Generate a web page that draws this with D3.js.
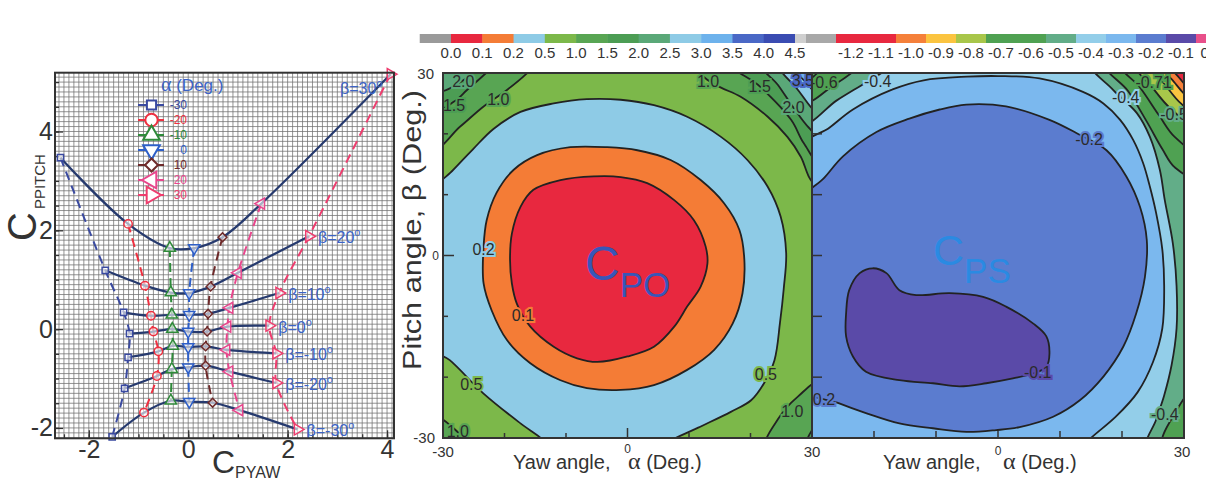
<!DOCTYPE html>
<html>
<head>
<meta charset="utf-8">
<script src="https://cdn.jsdelivr.net/npm/d3@7"></script>
<style>
  body { margin: 0; background: #fff; }
  svg text { font-family: "Liberation Sans", Arial, sans-serif; }
</style>
</head>
<body>
<svg id="fig" width="1206" height="483"></svg>
<script>
// ---------------- data: left chart (C_PYAW vs C_PPITCH) ----------------
const alphaDeg = [-30, -20, -10, 0, 10, 20, 30];
const betaDeg = [30, 20, 10, 0, -10, -20, -30];
// rows = beta, cols = alpha
const cpYaw = [
  [-2.57, -1.21, -0.37, 0.12, 0.69, 1.47, 4.07],
  [-1.67, -0.87, -0.35, 0.02, 0.45, 1.00, 2.43],
  [-1.30, -0.75, -0.33, 0.02, 0.40, 0.83, 1.83],
  [-1.18, -0.70, -0.32, 0.00, 0.38, 0.79, 1.63],
  [-1.21, -0.60, -0.31, 0.00, 0.35, 0.77, 1.77],
  [-1.28, -0.63, -0.33, 0.00, 0.35, 0.83, 1.77],
  [-1.53, -0.89, -0.35, 0.02, 0.49, 1.03, 2.20]
];
const cpPitch = [
  [3.47, 2.13, 1.64, 1.64, 1.86, 2.54, 5.16],
  [1.19, 0.88, 0.74, 0.73, 0.86, 1.14, 1.88],
  [0.34, 0.27, 0.29, 0.29, 0.31, 0.43, 0.73],
  [-0.09, -0.05, 0.00, -0.05, -0.05, 0.05, 0.07],
  [-0.57, -0.45, -0.34, -0.36, -0.35, -0.42, -0.49],
  [-1.20, -0.95, -0.81, -0.77, -0.74, -0.86, -1.09],
  [-2.18, -1.69, -1.45, -1.47, -1.49, -1.64, -2.03]
];
const leftTicks = [-2, 0, 2, 4];

// ---------------- data: colour bars ----------------
const cpoBarLabels = ["0.0","0.1","0.2","0.5","1.0","1.5","2.0","2.5","3.0","3.5","4.0","4.5"];
const cpsBarLabels = ["-1.2","-1.1","-1.0","-0.9","-0.8","-0.7","-0.6","-0.5","-0.4","-0.3","-0.2","-0.1","0.0"];
const cpoLevels = [0.1, 0.2, 0.5, 1.0, 1.5, 2.0, 2.5, 3.0, 3.5, 4.0];
const cpsLevels = [-1.0, -0.9, -0.8, -0.7, -0.6, -0.5, -0.4, -0.3, -0.2, -0.1];

// ---------------- data: C_PO contour lines [yaw, pitch] ----------------
const cpo01 = [[-19.1,-0.7],[-18.8,3.6],[-17.4,8.0],[-15.3,10.8],[-10.9,12.4],[-5.5,13.0],[-1.1,12.9],[3.2,11.9],[7.6,9.1],[10.8,5.8],[12.7,1.5],[13.0,-1.3],[11.9,-5.1],[9.7,-8.4],[7.6,-11.7],[4.3,-15.0],[0.0,-16.6],[-4.9,-17.5],[-8.2,-16.9],[-12.0,-15.0],[-15.8,-11.7],[-18.0,-7.9],[-18.8,-4.6]];
const cpo02 = [[-23.4,1.5],[-22.9,5.8],[-21.3,10.3],[-18.5,14.1],[-14.7,16.5],[-9.3,17.8],[-3.3,17.8],[1.6,17.3],[7.0,15.7],[11.9,12.4],[15.7,8.6],[18.2,4.2],[19.0,-0.7],[18.7,-6.2],[17.1,-11.2],[14.1,-15.5],[9.7,-18.8],[4.3,-21.3],[-1.1,-22.1],[-6.6,-21.8],[-10.9,-20.5],[-15.8,-17.7],[-19.6,-13.9],[-22.1,-9.0],[-23.4,-4.6]];
const cpo05 = [[-32,9.8],[-28.3,14.1],[-25.1,17.5],[-21.8,20.8],[-17.4,23.6],[-12.0,25.0],[-6.6,25.7],[-1.1,25.6],[4.3,24.7],[9.7,22.8],[15.2,19.5],[19.5,15.7],[22.8,11.3],[24.9,6.4],[25.8,0.4],[25.4,-5.5],[24.8,-11],[23.9,-17.2],[22.2,-21.0],[20.1,-23.8],[16.8,-25.7],[11.5,-28.3],[6,-31],[4.5,-32.5],[-12,-32.5],[-13.5,-30.5],[-17.4,-27.6],[-23.4,-22.7],[-28.9,-17.2],[-32,-15]];
const cpoTL10 = [[-32,17.3],[-27.2,21.2],[-23.4,24.5],[-19.6,27.2],[-16.5,29.8],[-14.5,32],[-40,40]];
const cpoTL15 = [[-32,23.8],[-28.2,25.3],[-26.1,27.2],[-23,30],[-21,32],[-40,40]];
const cpoTL20 = [[-32,27],[-26.7,28.8],[-24,32],[-40,40]];
const cpoTL25 = [[-32,29.8],[-29.5,32],[-40,40]];
const cpoTR10 = [[10.5,32],[13.1,28.8],[15.2,27.6],[18.4,26.1],[22.8,22.8],[26.0,19.5],[28.2,16.2],[29.8,12.4],[32,10.5],[40,40]];
const cpoTR15 = [[16.5,32],[21.5,27.8],[26.6,22.3],[28.7,18.4],[32,14.5],[40,40]];
const cpoTR20 = [[21.5,32],[24.5,28],[27,24.3],[29.5,21],[32,19],[40,40]];
const cpoTR25 = [[24.5,32],[27.5,27.5],[32,23],[40,40]];
const cpoTR30 = [[26.5,32],[29,28.5],[32,26],[40,40]];
const cpoTR35 = [[28,32],[32,28.5],[40,40]];
const cpoBL10 = [[-32,-26.5],[-28.5,-28.2],[-26,-32],[-40,-40]];
const cpoBR10 = [[32,-20.5],[27.7,-23.2],[24.4,-27.0],[22.5,-32],[40,-40]];
const cpoBR15 = [[32,-27],[29,-32],[40,-40]];

const cpoLabelText = ["2.0","1.5","1.0","1.0","1.5","2.0","3.5","0.2","0.1","0.5","0.5","1.0","1.0"];
const cpoLabelYaw = [-26.7,-28.2,-21,13.1,21.5,27,28.5,-23.4,-17,-25.4,22.5,26.8,-27.6];
const cpoLabelPitch = [28.6,24.7,25.6,28.6,27.8,24.3,28.8,1.0,-9.9,-21.2,-19.6,-25.6,-28.9];
const cpoLabelValue = [2.0,1.5,1.0,1.0,1.5,2.0,3.5,0.2,0.1,0.5,0.5,1.0,1.0];

// ---------------- data: C_PS contour lines [yaw, pitch] ----------------
const cps01 = [[-24.5,-9.5],[-24.0,-5.7],[-22.3,-2.9],[-20.2,-2.1],[-18.0,-2.9],[-15.9,-5.7],[-13.2,-6.5],[-7.8,-6.2],[-2.4,-6.8],[1.3,-8.4],[5.7,-11.2],[7.8,-13.3],[8.3,-16.1],[7.8,-18.3],[5.7,-19.4],[2.4,-20.2],[-1.9,-21.0],[-6.2,-21.5],[-10.5,-21.0],[-15.9,-20.5],[-21.3,-19.1],[-23.4,-16.6],[-24.5,-13.3]];
const cps02 = [[-32,8.5],[-28,12.8],[-25,16.3],[-19.6,20.3],[-14.3,22.5],[-9.4,24.0],[-5.1,24.8],[1.3,24.5],[8.3,22.3],[12.7,20.1],[17.5,17.3],[20.7,13],[22.9,8],[24,2.5],[23.7,-3.5],[22.3,-9.5],[20.2,-15],[17,-19.9],[13.2,-23.8],[8.9,-26.5],[3.5,-28.2],[-0.3,-28.7],[-5.1,-29],[-10.5,-28.4],[-15.9,-27.6],[-21.3,-25.9],[-25.6,-24.3],[-32,-21.5]];
const cps03 = [[-32,17.5],[-27.2,21],[-23.4,24],[-17,27.3],[-12,28.8],[-5,29.4],[0,29.5],[6.7,29.1],[13.7,26.9],[17,25],[19.7,22.3],[21.8,19],[23.4,15.2],[24.5,11.3],[25.5,7],[26.5,1],[26.8,-5],[26.5,-12],[25,-17.5],[22.5,-22.5],[19,-26.5],[15,-30],[12,-33],[-40,-40]];
const cps04L = [[-32,21.5],[-26,25.5],[-22,28],[-18,30.5],[-16,32],[-40,40]];
const cps05L = [[-32,25],[-26.5,28],[-23,30.5],[-21.5,32],[-40,40]];
const cps06L = [[-32,28.5],[-28.5,30.5],[-27,32],[-40,40]];
const cps04R = [[14.8,32],[18.6,27.2],[22.4,23.4],[24.5,19.5],[26.1,14.1],[26.9,9.1],[28.2,2],[28.8,-5],[28.8,-12],[28,-18],[26.8,-23],[25.5,-27],[24,-32],[40,-40],[40,40]];
const cps05R = [[17,32],[21,27],[24,22],[26.5,17.5],[28.5,14.5],[32,13],[40,40]];
const cps06R = [[19.5,32],[23,27.5],[26,23],[28.5,19.5],[32,17.5],[40,40]];
const cps07R = [[22,32],[25,27.5],[28,24],[32,21.5],[40,40]];
const cps08R = [[24,32],[27,28],[29.5,25],[32,23.5],[40,40]];
const cps09R = [[25.8,32],[28,29],[32,25.5],[40,40]];
const cps10R = [[27.5,32],[29,29.5],[32,27],[40,40]];
const cps05BR = [[32,-22],[28.5,-26],[26.5,-32],[40,-40]];

const cpsLabelText = ["-0.6","-0.4","-0.2","-0.1","-0.2","-0.4","-0.71","-0.5","-0.4"];
const cpsLabelYaw = [-28.1,-19.4,14.7,6.4,-28.5,20.6,25.1,28.4,26.9];
const cpsLabelPitch = [28.4,28.6,19.0,-19.2,-23.6,26.0,28.4,23.1,-26.1];
const cpsLabelValue = [-0.6,-0.4,-0.2,-0.1,-0.2,-0.4,-0.7,-0.5,-0.45];

// ---------------- styles ----------------
const alphaColors = ["#3a4aa0", "#ee3040", "#2f8a3a", "#2e5fc8", "#6e2a2a", "#e8468c", "#ee3d6e"];
const symTypes = [d3.symbolSquare, d3.symbolCircle, d3.symbolTriangle, d3.symbolTriangle, d3.symbolSquare, d3.symbolTriangle, d3.symbolTriangle];
const symRotate = [0, 0, 0, 180, 45, -90, 90];
const symScale = [0.7, 1, 1, 1, 0.7, 1, 1];
const cpoColors = ["#e8283f","#f47c36","#8ecbe6","#7cb84a","#58a553","#4c9d54","#5aa878","#8ecbe6","#6db2ec","#4a68c6","#3a4cb2"];
const cpsColors = ["#e8283f","#f5803a","#fbc440","#a8c64a","#4fa152","#4fa152","#62ad88","#93cee9","#7bb8ee","#5b7ccf","#5a4aa8"];
const blue = "#3b63c6";
const ink = "#333";

const colorCpo = d3.scaleThreshold().domain(cpoLevels).range(cpoColors);
const colorCps = d3.scaleThreshold().domain(cpsLevels).range(cpsColors);

const svg = d3.select("#fig");
svg.append("rect").attr("width", 1206).attr("height", 483).attr("fill", "#fff");

// =============== LEFT CHART ===============
const xL = d3.scaleLinear().domain([-2.68, 4.14]).range([55, 394]);
const yL = d3.scaleLinear().domain([-2.21, 5.19]).range([438.3, 72.7]);
const gL = svg.append("g");

const grid = gL.append("g").attr("stroke", "#707070").attr("stroke-width", 0.75);
grid.selectAll("line.gv").data(d3.range(-26, 42).map(d => d / 10)).join("line")
  .attr("class", "gv")
  .attr("x1", d => xL(d)).attr("x2", d => xL(d))
  .attr("y1", yL.range()[0]).attr("y2", yL.range()[1]);
grid.selectAll("line.gh").data(d3.range(-22, 52).map(d => d / 10)).join("line")
  .attr("class", "gh")
  .attr("y1", d => yL(d)).attr("y2", d => yL(d))
  .attr("x1", xL.range()[0]).attr("x2", xL.range()[1]);

// axes
const axB = gL.append("g").attr("transform", `translate(0,${yL.range()[0]})`)
  .call(d3.axisBottom(xL).tickValues(leftTicks).tickSize(-8).tickPadding(2).tickFormat(d => String(d)));
const axLft = gL.append("g").attr("transform", `translate(${xL.range()[0]},0)`)
  .call(d3.axisLeft(yL).tickValues(leftTicks).tickSize(-8).tickPadding(2).tickFormat(d => String(d)));
gL.append("g").attr("transform", `translate(0,${yL.range()[0]})`)
  .call(d3.axisBottom(xL).tickValues(d3.range(-5, 9).map(d => d / 2)).tickSize(-4).tickFormat(""));
gL.append("g").attr("transform", `translate(${xL.range()[0]},0)`)
  .call(d3.axisLeft(yL).tickValues(d3.range(-4, 11).map(d => d / 2)).tickSize(-4).tickFormat(""));
gL.selectAll(".domain").remove();
gL.selectAll(".tick line").attr("stroke", ink).attr("stroke-width", 1.3);
[axB, axLft].forEach(a => a.selectAll("text").attr("font-size", 25).attr("fill", ink)
  .style("font-family", '"Liberation Sans", Arial, sans-serif'));

// dashed constant-alpha lines
const curveL = d3.line().x(d => xL(d[0])).y(d => yL(d[1])).curve(d3.curveCatmullRom.alpha(0.5));
alphaDeg.forEach((a, j) => {
  const pts = betaDeg.map((b, i) => [cpYaw[i][j], cpPitch[i][j]]);
  gL.append("path").attr("d", curveL(pts)).attr("fill", "none")
    .attr("stroke", alphaColors[j]).attr("stroke-width", 2).attr("stroke-dasharray", "9,6");
});
// solid constant-beta lines
betaDeg.forEach((b, i) => {
  const pts = alphaDeg.map((a, j) => [cpYaw[i][j], cpPitch[i][j]]);
  gL.append("path").attr("d", curveL(pts)).attr("fill", "none")
    .attr("stroke", "#263a6e").attr("stroke-width", 2.2);
});
// markers
betaDeg.forEach((b, i) => {
  alphaDeg.forEach((a, j) => {
    gL.append("path")
      .attr("d", d3.symbol().type(symTypes[j]).size(55 * symScale[j])())
      .attr("transform", `translate(${xL(cpYaw[i][j])},${yL(cpPitch[i][j])}) rotate(${symRotate[j]})`)
      .attr("fill", "#fff").attr("fill-opacity", 0.6)
      .attr("stroke", alphaColors[j]).attr("stroke-width", 1.5);
  });
});
// beta labels
betaDeg.forEach((b, i) => {
  const last = alphaDeg.length - 1;
  const x0 = xL(cpYaw[i][last]), y0 = yL(cpPitch[i][last]);
  const top = i === 0;
  const t = gL.append("text")
    .attr("x", top ? x0 - 8 : x0 + 9).attr("y", top ? y0 + 20 : y0 + 7)
    .attr("text-anchor", top ? "end" : "start")
    .attr("font-size", 16).attr("fill", blue);
  t.append("tspan").text(`β=${b}`);
  t.append("tspan").attr("font-size", 11).attr("dy", -7).text("o");
});

// legend
const lg = gL.append("g");
lg.append("text").attr("x", 161).attr("y", 91).attr("font-size", 17).attr("fill", blue)
  .call(t => {
    t.append("tspan").style("font-family", '"Liberation Serif", serif').attr("font-size", 20).text("α");
    t.append("tspan").text(" (Deg.)");
  });
alphaDeg.forEach((a, j) => {
  const yy = 105 + j * 15;
  lg.append("line").attr("x1", 138).attr("x2", 164).attr("y1", yy).attr("y2", yy)
    .attr("stroke", alphaColors[j]).attr("stroke-width", 2);
  lg.append("path")
    .attr("d", d3.symbol().type(symTypes[j]).size(120 * symScale[j])())
    .attr("transform", `translate(151.5,${yy}) rotate(${symRotate[j]})`)
    .attr("fill", "#fff").attr("stroke", alphaColors[j]).attr("stroke-width", 2);
  lg.append("text").attr("x", 187).attr("y", yy + 4).attr("text-anchor", "end")
    .attr("font-size", 12).attr("fill", alphaColors[j]).text(a);
});

// frame + titles
gL.append("rect").attr("x", 55).attr("y", 72.7).attr("width", 339).attr("height", 365.6)
  .attr("fill", "none").attr("stroke", ink).attr("stroke-width", 2);
gL.append("text").attr("transform", "translate(36,241) rotate(-90)").attr("fill", ink)
  .call(t => {
    t.append("tspan").attr("font-size", 40).text("C");
    t.append("tspan").attr("font-size", 15).attr("dy", 9).attr("dx", 3).text("PPITCH");
  });
gL.append("text").attr("x", 212).attr("y", 473).attr("fill", ink)
  .call(t => {
    t.append("tspan").attr("font-size", 32).text("C");
    t.append("tspan").attr("font-size", 16).attr("dy", 5).text("PYAW");
  });

// =============== COLOUR BARS ===============
const barY = 34, barH = 9;
const xBar1 = d3.scalePoint().domain(cpoBarLabels).range([451, 795]);
const step1 = xBar1.step();
const bar1Colors = ["#9a9a9a", ...cpoColors, "#cfcfcf"];
svg.append("g").selectAll("rect").data(bar1Colors).join("rect")
  .attr("x", (d, i) => xBar1.range()[0] - step1 + i * step1)
  .attr("y", barY).attr("width", (d, i) => i === bar1Colors.length - 1 ? 11 : step1 + 0.5).attr("height", barH)
  .attr("fill", d => d);
svg.append("g").selectAll("text").data(cpoBarLabels).join("text")
  .attr("x", d => xBar1(d)).attr("y", 58).attr("text-anchor", "middle")
  .attr("font-size", 15).attr("fill", ink).text(d => d);

const xBar2 = d3.scaleBand().domain(cpsBarLabels).range([836, 1226]);
const bar2Colors = [cpsColors[0], ...cpsColors, "#e8508a"];
const gBar2 = svg.append("g");
gBar2.append("rect").attr("x", 806).attr("y", barY).attr("width", 30).attr("height", barH).attr("fill", "#a8a8a8");
gBar2.selectAll("rect.seg").data(cpsBarLabels).join("rect").attr("class", "seg")
  .attr("x", d => xBar2(d)).attr("y", barY).attr("width", xBar2.bandwidth() + 0.5).attr("height", barH)
  .attr("fill", (d, i) => bar2Colors[i]);
gBar2.selectAll("text").data(cpsBarLabels).join("text")
  .attr("x", d => xBar2(d) + xBar2.bandwidth() / 2).attr("y", 58).attr("text-anchor", "middle")
  .attr("font-size", 15).attr("fill", ink).text(d => d);

// =============== CONTOUR PANELS ===============
const yC = d3.scaleLinear().domain([-30, 30]).range([438, 73]);
const xM = d3.scaleLinear().domain([-30, 30]).range([443, 812]);
const xR = d3.scaleLinear().domain([-30, 30]).range([812, 1184]);
const defs = svg.append("defs");
defs.append("clipPath").attr("id", "clipM").append("rect")
  .attr("x", 443).attr("y", 73).attr("width", 369).attr("height", 365);
defs.append("clipPath").attr("id", "clipR").append("rect")
  .attr("x", 812).attr("y", 73).attr("width", 372).attr("height", 365);

function panel(xs, clipId, baseColor, layers, colorFn, labels) {
  const g = svg.append("g").attr("clip-path", `url(#${clipId})`);
  const shape = d3.line().x(d => xs(d[0])).y(d => yC(d[1])).curve(d3.curveCatmullRomClosed.alpha(0.5));
  g.append("rect").attr("x", xs.range()[0]).attr("y", 73)
    .attr("width", xs.range()[1] - xs.range()[0]).attr("height", 365).attr("fill", baseColor);
  layers.forEach(([pts, level, side]) => {
    g.append("path").attr("d", shape(pts))
      .attr("fill", colorFn(side > 0 ? level : level - 1e-6))
      .attr("stroke", "#222").attr("stroke-width", 1.8).attr("stroke-linejoin", "round");
  });
  labels.text.forEach((t, k) => {
    g.append("text").attr("x", xs(labels.yaw[k])).attr("y", yC(labels.pitch[k]) + 5.5)
      .attr("text-anchor", "middle").attr("font-size", 16).attr("fill", "#2b2b2b")
      .attr("stroke", colorFn(labels.value[k])).attr("stroke-width", 4).attr("paint-order", "stroke")
      .text(t);
  });
  return g;
}

panel(xM, "clipM", colorCpo(0.75), [
  [cpoTL10, 1.0, 1], [cpoTL15, 1.5, 1], [cpoTL20, 2.0, 1], [cpoTL25, 2.5, 1],
  [cpoTR10, 1.0, 1], [cpoTR15, 1.5, 1], [cpoTR20, 2.0, 1], [cpoTR25, 2.5, 1], [cpoTR30, 3.0, 1], [cpoTR35, 3.5, 1],
  [cpoBL10, 1.0, 1], [cpoBR10, 1.0, 1], [cpoBR15, 1.5, 1],
  [cpo05, 0.5, -1], [cpo02, 0.2, -1], [cpo01, 0.1, -1]
], colorCpo, { text: cpoLabelText, yaw: cpoLabelYaw, pitch: cpoLabelPitch, value: cpoLabelValue });

panel(xR, "clipR", colorCps(-0.35), [
  [cps04L, -0.4, -1], [cps05L, -0.5, -1], [cps06L, -0.6, -1],
  [cps04R, -0.4, -1], [cps05R, -0.5, -1], [cps06R, -0.6, -1], [cps07R, -0.7, -1],
  [cps08R, -0.8, -1], [cps09R, -0.9, -1], [cps10R, -1.0, -1], [cps05BR, -0.5, -1],
  [cps03, -0.3, 1], [cps02, -0.2, 1], [cps01, -0.1, 1]
], colorCps, { text: cpsLabelText, yaw: cpsLabelYaw, pitch: cpsLabelPitch, value: cpsLabelValue });

// big panel names
svg.append("text").attr("x", 585).attr("y", 280).attr("fill", "#3856b8")
  .call(t => {
    t.append("tspan").attr("font-size", 48).text("C");
    t.append("tspan").attr("font-size", 35).attr("dy", 17).text("PO");
  });
svg.append("text").attr("x", 933).attr("y", 265).attr("fill", "#2a8ae2")
  .call(t => {
    t.append("tspan").attr("font-size", 43).text("C");
    t.append("tspan").attr("font-size", 35).attr("dy", 18).text("PS");
  });

// ticks
const tickG = svg.append("g").attr("stroke", ink).attr("stroke-width", 1.5);
[-20, -10, 0, 10, 20].forEach(v => {
  tickG.append("line").attr("x1", 443).attr("x2", 443 + (v === 0 ? 11 : 5)).attr("y1", yC(v)).attr("y2", yC(v));
  tickG.append("line").attr("x1", xM(v)).attr("x2", xM(v)).attr("y1", 438).attr("y2", 438 - (v === 0 ? 10 : 5));
  tickG.append("line").attr("x1", 812).attr("x2", 822).attr("y1", yC(v)).attr("y2", yC(v));
  tickG.append("line").attr("x1", xR(v)).attr("x2", xR(v)).attr("y1", 438).attr("y2", 431);
});

// frames
svg.append("rect").attr("x", 443).attr("y", 73).attr("width", 369).attr("height", 365)
  .attr("fill", "none").attr("stroke", ink).attr("stroke-width", 2);
svg.append("rect").attr("x", 812).attr("y", 73).attr("width", 372).attr("height", 365)
  .attr("fill", "none").attr("stroke", ink).attr("stroke-width", 2);

// tick labels
const tl = svg.append("g").attr("fill", ink);
tl.append("text").attr("x", 434).attr("y", 79).attr("text-anchor", "end").attr("font-size", 15).text("30");
tl.append("text").attr("x", 439).attr("y", 260).attr("text-anchor", "end").attr("font-size", 12).text("0");
tl.append("text").attr("x", 435).attr("y", 443).attr("text-anchor", "end").attr("font-size", 15).text("-30");
tl.append("text").attr("x", xM(-30)).attr("y", 457).attr("text-anchor", "middle").attr("font-size", 15).text("-30");
tl.append("text").attr("x", xM(0)).attr("y", 453).attr("text-anchor", "middle").attr("font-size", 12).text("0");
tl.append("text").attr("x", xM(30)).attr("y", 457).attr("text-anchor", "middle").attr("font-size", 15).text("30");
tl.append("text").attr("x", xR(0)).attr("y", 455).attr("text-anchor", "middle").attr("font-size", 12).text("0");
tl.append("text").attr("x", xR(30) - 2).attr("y", 457).attr("text-anchor", "middle").attr("font-size", 15).text("30");

// axis titles
svg.append("text").attr("transform", "translate(421,230) rotate(-90)").attr("text-anchor", "middle")
  .attr("font-size", 25).attr("textLength", 280).attr("lengthAdjust", "spacingAndGlyphs")
  .attr("fill", ink).text("Pitch angle, β (Deg.)");
[[513, 628], [883, 1003]].forEach(([xa, xb]) => {
  const t = svg.append("text").attr("y", 469).attr("font-size", 20).attr("fill", ink);
  t.append("tspan").attr("x", xa).text("Yaw angle,");
  t.append("tspan").attr("x", xb).style("font-family", '"Liberation Serif", serif').attr("font-size", 24).text("α");
  t.append("tspan").text(" (Deg.)");
});
</script>
</body>
</html>
